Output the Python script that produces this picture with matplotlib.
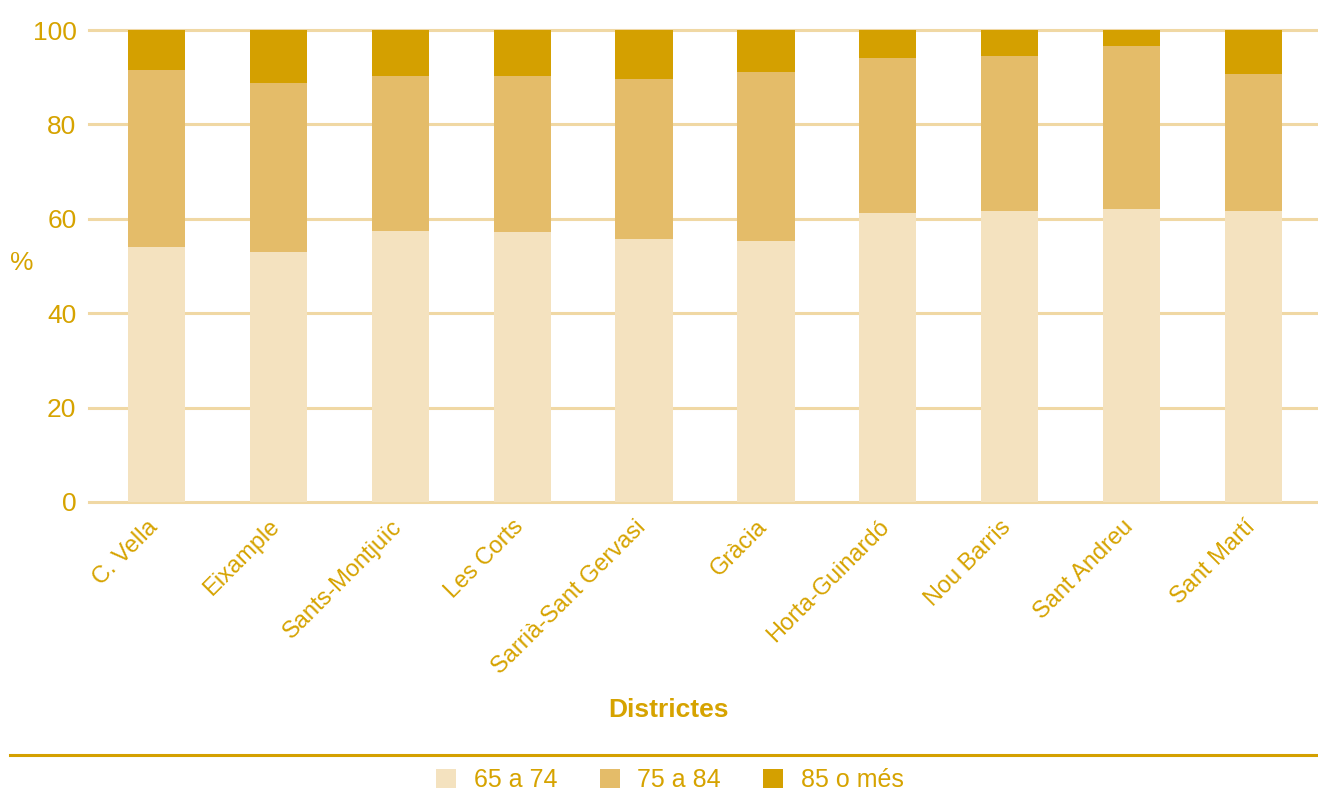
import matplotlib.pyplot as plt
import matplotlib.transforms as mtransforms
import numpy as np

plt.rcParams['font.family'] = ['Liberation Sans Narrow', 'Liberation Sans', 'DejaVu Sans']

# 数据：各区老年人口年龄结构（%）
districtes = ['C. Vella', 'Eixample', 'Sants-Montjuïc', 'Les Corts', 'Sarrià-Sant Gervasi',
              'Gràcia', 'Horta-Guinardó', 'Nou Barris', 'Sant Andreu', 'Sant Martí']
edat_65_74 = [54.0, 53.0, 57.5, 57.3, 55.7, 55.3, 61.3, 61.7, 62.1, 61.7]
edat_75_84 = [37.5, 35.8, 32.8, 33.0, 33.9, 35.8, 32.8, 32.8, 34.5, 29.0]
edat_85_mes = [8.5, 11.2, 9.7, 9.7, 10.4, 8.9, 5.9, 5.5, 3.4, 9.3]

c_text = '#d6a300'
colors = ['#f4e2bf', '#e4bc69', '#d4a000']

fig = plt.figure(figsize=(13.18, 7.94), dpi=100)
ax = fig.add_axes([0.0675, 0.3678, 0.9325, 0.5944])

x = np.arange(len(districtes))
w = 0.47
b1 = ax.bar(x, edat_65_74, w, color=colors[0], label='65 a 74', zorder=3)
b2 = ax.bar(x, edat_75_84, w, bottom=edat_65_74, color=colors[1], label='75 a 84', zorder=3)
bottom3 = np.array(edat_65_74) + np.array(edat_75_84)
b3 = ax.bar(x, edat_85_mes, w, bottom=bottom3, color=colors[2], label='85 o més', zorder=3)

ax.set_xlim(-0.555, 9.53)
ax.set_ylim(0, 100)
ax.set_yticks([0, 20, 40, 60, 80, 100])
ax.yaxis.grid(True, color='#f0d8a4', linewidth=2.2, zorder=0)
for s in ax.spines.values():
    s.set_visible(False)
for gl in ax.get_ygridlines():
    gl.set_clip_on(False)
ax.tick_params(axis='y', length=0, colors=c_text, labelsize=19, pad=9)
ax.tick_params(axis='x', length=0, colors=c_text, labelsize=17, pad=10)
ax.set_xticks(x)
ax.set_xticklabels(districtes, rotation=45, ha='right', va='top')

# 标签稍微右移
offset = mtransforms.ScaledTranslation(6 / 100, 0, fig.dpi_scale_trans)
for lbl in ax.get_xticklabels():
    lbl.set_transform(lbl.get_transform() + offset)

fig.text(22 / 1318, 1 - 263 / 794, '%', ha='center', va='center', color=c_text, fontsize=19)

fig.text(0.507, 1 - 710 / 794, 'Districtes', ha='center', va='center',
         fontsize=19, fontweight='bold', color=c_text)

# 底部分隔线
fig.add_artist(plt.Line2D([10 / 1318, 1.0], [1 - 755 / 794] * 2, color='#d4a000', linewidth=2.2))

leg = fig.legend(handles=[b1, b2, b3], loc='center', bbox_to_anchor=(670 / 1318, 1 - 780 / 794),
                 ncol=3, frameon=False, fontsize=18, handlelength=0.8, handleheight=0.8,
                 handletextpad=0.7, columnspacing=1.7, labelcolor=c_text)

fig.savefig('out.png', dpi=100)
